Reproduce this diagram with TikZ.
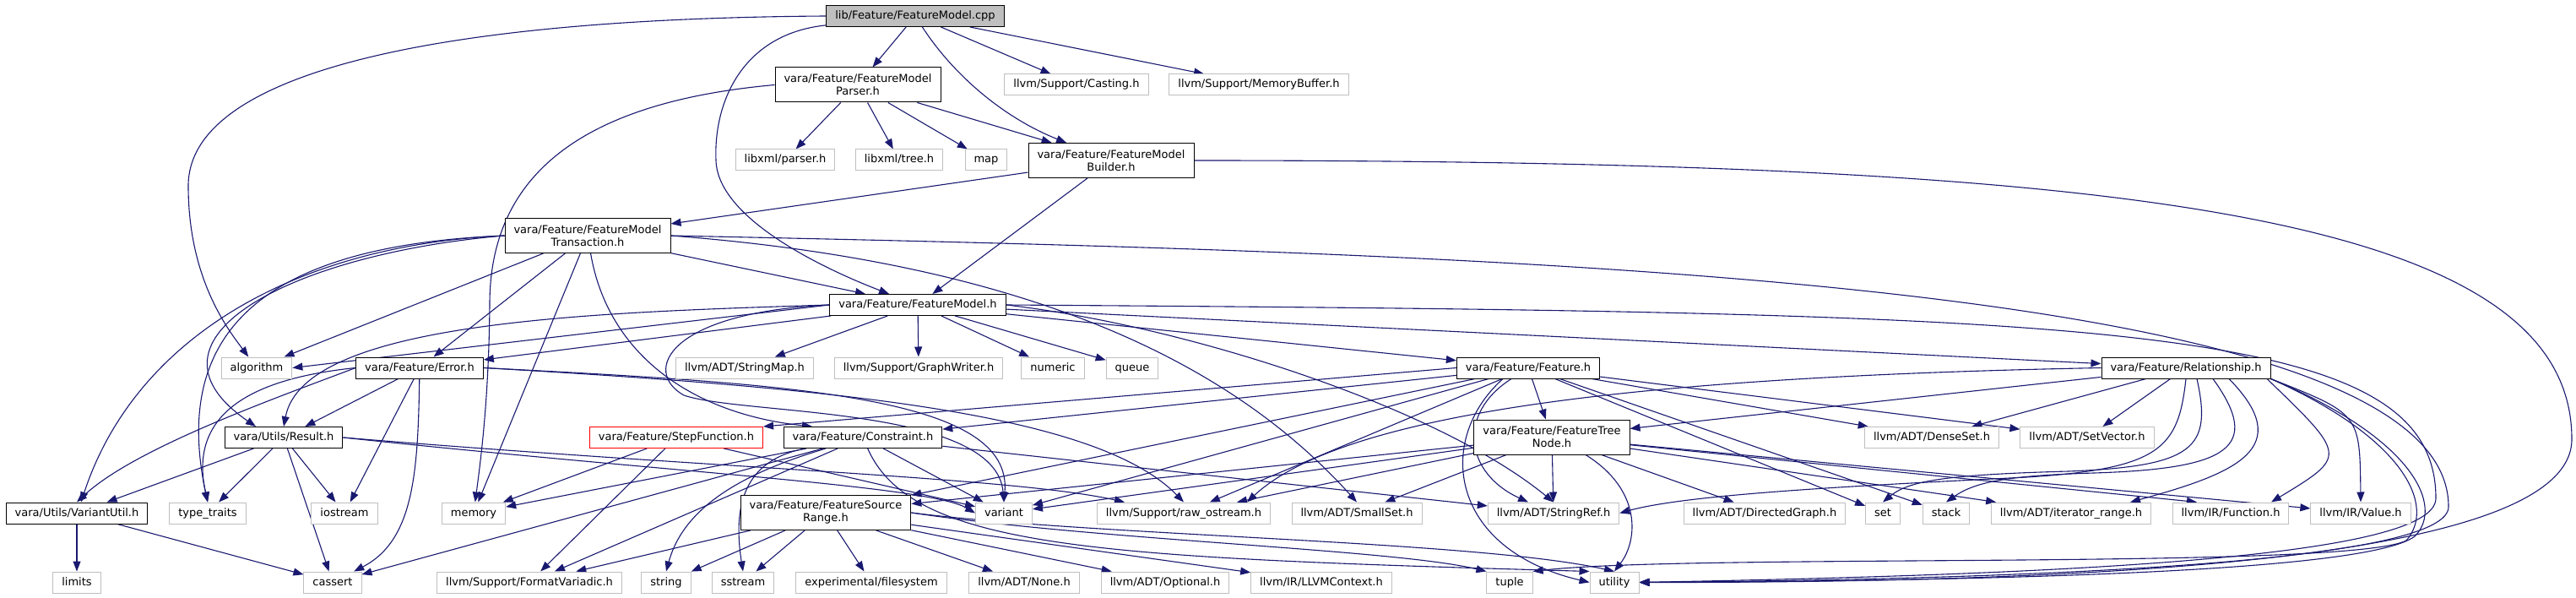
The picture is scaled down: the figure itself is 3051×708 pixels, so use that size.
\documentclass[tikz,border=0pt]{standalone}
\usepackage{fontspec}
\setmainfont{DejaVu Sans}
\usetikzlibrary{arrows.meta,backgrounds}
\definecolor{Navy}{HTML}{191970}
\definecolor{Grey75}{HTML}{BFBFBF}

\tikzset{
  filebox/.style={rectangle, fill=white, line width=1pt, font=\fontsize{13}{15}\selectfont, inner xsep=10.5pt},
  oneline/.style={filebox, text height=10pt, text depth=3pt, inner ysep=6pt},
  twoline/.style={filebox, align=center, minimum height=41pt, inner ysep=3pt},
  hdr/.style={draw=black},
  sys/.style={draw=Grey75},
  root/.style={draw=black, fill=Grey75},
  trunc/.style={draw=red},
  inc/.style={draw=Navy, line width=1.1pt, -{Triangle[length=12pt,width=9pt]}},
}

\begin{document}
\begin{tikzpicture}[x=1pt, y=-1pt]
\useasboundingbox (0,0) rectangle (3051,708);

% Row 0: the source file
\node[oneline, root] (cpp) at (1084,19) {lib/Feature/FeatureModel.cpp};

% Row 1
\node[twoline, hdr] (parser) at (1016,100.5) {vara/Feature/FeatureModel\\Parser.h};
\node[oneline, sys] (casting) at (1275,100.5) {llvm/Support/Casting.h};
\node[oneline, sys] (membuf) at (1491,100.5) {llvm/Support/MemoryBuffer.h};

% Row 2
\node[oneline, sys] (xmlparser) at (930,189.5) {libxml/parser.h};
\node[oneline, sys] (xmltree) at (1065,189.5) {libxml/tree.h};
\node[oneline, sys] (map) at (1168,189.5) {map};
\node[twoline, hdr] (builder) at (1316,190) {vara/Feature/FeatureModel\\Builder.h};

% Row 3
\node[twoline, hdr] (trans) at (696,279) {vara/Feature/FeatureModel\\Transaction.h};
\node[oneline, hdr] (fm) at (1087,361) {vara/Feature/FeatureModel.h};

% Row 4
\node[oneline, sys] (algorithm) at (304,435.5) {algorithm};
\node[oneline, hdr] (error) at (497,435.5) {vara/Feature/Error.h};
\node[oneline, sys] (stringmap) at (882,435.5) {llvm/ADT/StringMap.h};
\node[oneline, sys] (graphwriter) at (1088,435.5) {llvm/Support/GraphWriter.h};
\node[oneline, sys] (numeric) at (1247,435.5) {numeric};
\node[oneline, sys] (queue) at (1341,435.5) {queue};
\node[oneline, hdr] (feature) at (1810,435.5) {vara/Feature/Feature.h};
\node[oneline, hdr] (relship) at (2589,435.5) {vara/Feature/Relationship.h};

% Row 5
\node[oneline, hdr] (result) at (336,518) {vara/Utils/Result.h};
\node[oneline, trunc] (stepfn) at (801,518) {vara/Feature/StepFunction.h};
\node[oneline, hdr] (constraint) at (1022,518) {vara/Feature/Constraint.h};
\node[twoline, hdr] (treenode) at (1838,517.5) {vara/Feature/FeatureTree\\Node.h};
\node[oneline, sys] (denseset) at (2288,518) {llvm/ADT/DenseSet.h};
\node[oneline, sys] (setvector) at (2472,518) {llvm/ADT/SetVector.h};

% Row 6
\node[oneline, hdr] (variantutil) at (91,607.5) {vara/Utils/VariantUtil.h};
\node[oneline, sys] (typetraits) at (246,607.5) {type\_traits};
\node[oneline, sys] (iostream) at (408,607.5) {iostream};
\node[oneline, sys] (memory) at (561,607.5) {memory};
\node[twoline, hdr] (srcrange) at (978,607) {vara/Feature/FeatureSource\\Range.h};
\node[oneline, sys] (variant) at (1189,607.5) {variant};
\node[oneline, sys] (rawostream) at (1402,607.5) {llvm/Support/raw\_ostream.h};
\node[oneline, sys] (smallset) at (1607,607.5) {llvm/ADT/SmallSet.h};
\node[oneline, sys] (stringref) at (1840,607.5) {llvm/ADT/StringRef.h};
\node[oneline, sys] (dirgraph) at (2090,607.5) {llvm/ADT/DirectedGraph.h};
\node[oneline, sys] (set) at (2230,607.5) {set};
\node[oneline, sys] (stack) at (2305,607.5) {stack};
\node[oneline, sys] (iterrange) at (2453,607.5) {llvm/ADT/iterator\_range.h};
\node[oneline, sys] (function) at (2642,607.5) {llvm/IR/Function.h};
\node[oneline, sys] (value) at (2796,607.5) {llvm/IR/Value.h};

% Row 7
\node[oneline, sys] (limits) at (91,689.5) {limits};
\node[oneline, sys] (cassert) at (394,689.5) {cassert};
\node[oneline, sys] (formatv) at (627,689.5) {llvm/Support/FormatVariadic.h};
\node[oneline, sys] (string) at (789,689.5) {string};
\node[oneline, sys] (sstream) at (880,689.5) {sstream};
\node[oneline, sys] (expfs) at (1032,689.5) {experimental/filesystem};
\node[oneline, sys] (none) at (1213,689.5) {llvm/ADT/None.h};
\node[oneline, sys] (optional) at (1380,689.5) {llvm/ADT/Optional.h};
\node[oneline, sys] (llvmctx) at (1565,689.5) {llvm/IR/LLVMContext.h};
\node[oneline, sys] (tuple) at (1788,689.5) {tuple};
\node[oneline, sys] (utility) at (1912,689.5) {utility};

\begin{pgfonlayer}{background}
% FeatureModel.cpp
\draw[inc] (cpp) -- (parser);
\draw[inc] (cpp) .. controls (1130,90) and (1190,140) .. (builder);
\draw[inc] (cpp) .. controls (880,40) and (845,120) .. (848,190) .. controls (850,260) and (980,320) .. (fm);
\draw[inc] (cpp) -- (casting);
\draw[inc] (cpp) -- (membuf);
\draw[inc] (cpp.west) .. controls (500,22) and (223,90) .. (223,220) .. controls (223,330) and (270,390) .. (algorithm);

% FeatureModelParser.h
\draw[inc] (parser) -- (xmlparser);
\draw[inc] (parser) -- (xmltree);
\draw[inc] (parser) -- (map);
\draw[inc] (parser) -- (builder);
\draw[inc] (parser.west) .. controls (700,120) and (580,200) .. (580,360) .. controls (579,470) and (570,540) .. (memory);

% FeatureModelBuilder.h
\draw[inc] (builder) -- (trans);
\draw[inc] (builder) -- (fm);
\draw[inc] (builder.east) .. controls (2500,190) and (3046,250) .. (3046,520) .. controls (3046,650) and (2600,690) .. (utility.east);

% FeatureModelTransaction.h
\draw[inc] (trans) -- (fm);
\draw[inc] (trans) -- (algorithm);
\draw[inc] (trans) -- (error);
\draw[inc] (trans.west) .. controls (350,300) and (150,400) .. ([xshift=-33pt]result.north);
\draw[inc] (trans.west) .. controls (350,290) and (160,400) .. ([xshift=5pt]variantutil.north);
\draw[inc] (trans.west) .. controls (330,290) and (200,380) .. (typetraits.north);
\draw[inc] (trans) -- (memory);
\draw[inc] (trans) .. controls (720,420) and (820,490) .. ([xshift=-60pt]constraint.north);
\draw[inc] (trans.east) .. controls (1200,310) and (1450,420) .. (smallset.north);
\draw[inc] (trans.east) .. controls (1800,300) and (2900,330) .. (2900,600) .. controls (2900,660) and (2500,685) .. (utility.east);

% FeatureModel.h
\draw[inc] (fm.west) -- (algorithm.east);
\draw[inc] (fm) -- (error);
\draw[inc] (fm.west) .. controls (700,370) and (360,380) .. (result.north);
\draw[inc] (fm) -- (stringmap);
\draw[inc] (fm) -- (graphwriter);
\draw[inc] (fm) -- (numeric);
\draw[inc] (fm) -- (queue);
\draw[inc] (fm) -- (feature);
\draw[inc] (fm) -- (relship);
\draw[inc] (fm.east) .. controls (1400,385) and (1700,480) .. (stringref.north);
\draw[inc] (fm.west) .. controls (790,370) and (760,440) .. (810,468) .. controls (880,492) and (1180,480) .. (variant.north);
\draw[inc] (fm.east) .. controls (2500,370) and (2885,380) .. (2885,590) .. controls (2885,660) and (2450,680) .. (utility.east);

% Error.h
\draw[inc] (error) -- (result);
\draw[inc] (error.west) .. controls (330,470) and (160,530) .. (variantutil.north);
\draw[inc] (error.west) .. controls (280,450) and (225,500) .. (typetraits.north);
\draw[inc] (error) -- (iostream);
\draw[inc] (error) .. controls (495,560) and (490,640) .. (cassert);
\draw[inc] (error.east) .. controls (950,455) and (1200,470) .. (variant.north);
\draw[inc] (error.east) .. controls (1000,460) and (1300,490) .. (rawostream.north);

% Result.h
\draw[inc] (result) -- (variantutil);
\draw[inc] (result) -- (typetraits);
\draw[inc] (result) -- (iostream);
\draw[inc] (result) -- (cassert);
\draw[inc] (result.east) .. controls (800,560) and (1100,575) .. (variant.west);
\draw[inc] (result.east) .. controls (850,555) and (1200,565) .. ([xshift=-70pt]rawostream.north);

% VariantUtil.h
\draw[inc] (variantutil) -- (limits);
\draw[inc] (variantutil) -- (cassert);

% StepFunction.h
\draw[inc] (stepfn) -- (memory);
\draw[inc] (stepfn) -- (formatv);
\draw[inc] (stepfn) -- (variant);

% Constraint.h
\draw[inc] (constraint) -- (memory);
\draw[inc] (constraint) -- (cassert);
\draw[inc] (constraint) -- (formatv);
\draw[inc] (constraint) .. controls (880,560) and (810,600) .. (string.north);
\draw[inc] (constraint) .. controls (880,545) and (868,600) .. (sstream.north);
\draw[inc] (constraint) -- (variant);
\draw[inc] (constraint) -- (stringref);
\draw[inc] (constraint) .. controls (1080,650) and (1300,660) .. (utility.north west);

% FeatureSourceRange.h
\draw[inc] (srcrange) -- (formatv);
\draw[inc] (srcrange) -- (string);
\draw[inc] (srcrange) -- (sstream);
\draw[inc] (srcrange) -- (expfs);
\draw[inc] (srcrange) -- (none);
\draw[inc] (srcrange) -- (optional);
\draw[inc] (srcrange) -- (llvmctx);
\draw[inc] (srcrange.east) .. controls (1300,640) and (1650,650) .. (tuple.north west);
\draw[inc] (srcrange.east) .. controls (1300,635) and (1750,640) .. (utility.north);

% Feature.h
\draw[inc] (feature) -- (constraint);
\draw[inc] (feature.west) -- (stepfn.north east);
\draw[inc] (feature) -- (srcrange);
\draw[inc] (feature) -- (treenode);
\draw[inc] (feature) -- (variant);
\draw[inc] (feature) -- (rawostream);
\draw[inc] ([xshift=-20pt]feature.south) .. controls (1725,490) and (1735,560) .. ([xshift=-30pt]stringref.north);
\draw[inc] ([xshift=-30pt]feature.south) .. controls (1700,520) and (1715,650) .. (utility.west);
\draw[inc] (feature) -- (denseset);
\draw[inc] (feature) -- (setvector);
\draw[inc] (feature) -- (set);
\draw[inc] (feature) -- (stack);

% FeatureTreeNode.h
\draw[inc] (treenode) -- (srcrange);
\draw[inc] (treenode) -- (variant);
\draw[inc] (treenode) -- (rawostream);
\draw[inc] (treenode) -- (smallset);
\draw[inc] (treenode) -- (stringref);
\draw[inc] ([xshift=40pt]treenode.south) .. controls (1945,580) and (1940,640) .. (utility.north);
\draw[inc] (treenode) -- (dirgraph);
\draw[inc] (treenode) -- (iterrange);
\draw[inc] (treenode) -- ([xshift=-40pt]function.north);
\draw[inc] (treenode) -- (value);

% Relationship.h
\draw[inc] (relship) -- (treenode);
\draw[inc] (relship) -- (denseset);
\draw[inc] (relship) -- (setvector);
\draw[inc] (relship.south) .. controls (2580,530) and (2560,555) .. (2400,565) .. controls (2200,575) and (2000,585) .. (stringref.east);
\draw[inc] (relship.west) .. controls (2000,445) and (1600,480) .. ([xshift=75pt]rawostream.north);
\draw[inc] ([xshift=13pt]relship.south) .. controls (2620,530) and (2600,552) .. (2450,558) .. controls (2300,562) and (2260,570) .. (set.north);
\draw[inc] ([xshift=32pt]relship.south) .. controls (2680,530) and (2640,555) .. (2480,560) .. controls (2380,563) and (2340,570) .. (stack.north);
\draw[inc] ([xshift=51pt]relship.south) .. controls (2720,530) and (2650,560) .. ([xshift=70pt]iterrange.north);
\draw[inc] ([xshift=96pt]relship.south) .. controls (2780,540) .. ([xshift=48pt]function.north);
\draw[inc] (relship.south east) .. controls (2795,490) .. (value.north);
\draw[inc] (relship.south east) .. controls (2860,520) and (2895,600) .. (2860,635) .. controls (2800,680) and (2300,688) .. (utility.east);
\draw[inc] (relship.south east) .. controls (2850,520) and (2885,600) .. (2850,640) .. controls (2780,675) and (2000,655) .. (tuple.north east);
\end{pgfonlayer}

\end{tikzpicture}
\end{document}
